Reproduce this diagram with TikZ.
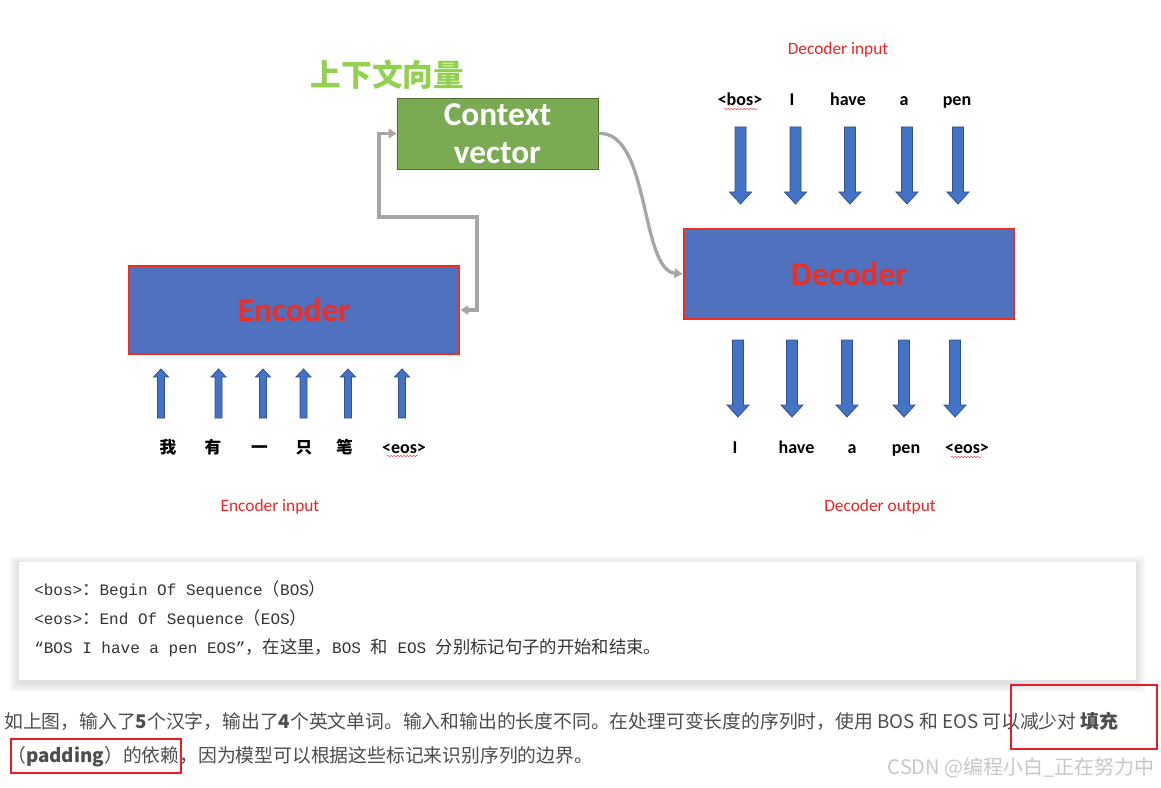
\documentclass[tikz,border=0pt]{standalone}
\usepackage{fontspec}
\setmainfont{Carlito}
\setmonofont{Liberation Mono}
\newfontfamily\cjk{Noto Sans CJK SC}
\usepackage{tikz}
\usepackage{xcolor}
\usetikzlibrary{arrows.meta, decorations.pathmorphing}

\definecolor{boxblue}{RGB}{79,113,190}
\definecolor{boxred}{RGB}{236,46,36}
\definecolor{arrblue}{RGB}{68,114,196}
\definecolor{arredge}{RGB}{47,82,143}
\definecolor{ctxgreen}{RGB}{122,170,82}
\definecolor{ctxedge}{RGB}{80,110,50}
\definecolor{lightgreen}{RGB}{146,208,80}
\definecolor{linkgray}{RGB}{166,166,166}
\definecolor{labelred}{RGB}{236,36,36}
\definecolor{bodytext}{RGB}{77,77,77}
\definecolor{codetext}{RGB}{51,51,51}
\definecolor{hlred}{RGB}{229,30,40}
\definecolor{wmgray}{RGB}{200,200,200}

\begin{document}
\begin{tikzpicture}[x=0.75pt, y=-0.75pt,
    box/.style={draw=boxred, line width=2.2pt, fill=boxblue, inner sep=0pt, text=boxred, minimum width=247.5pt, font=\fontsize{25}{30}\selectfont\bfseries},
    ctxbox/.style={draw=ctxedge, line width=0.6pt, fill=ctxgreen, inner sep=0pt, text=white, align=center, minimum width=150.75pt, minimum height=53.25pt, font=\fontsize{25}{28.5}\selectfont\bfseries},
    tok/.style={inner sep=0pt, text height=11pt, text depth=2pt, font=\fontsize{13.5}{16}\selectfont\bfseries},
    cjktok/.style={inner sep=0pt, text height=11pt, text depth=2pt, font=\cjk\fontsize{12.5}{15}\selectfont\bfseries},
    redlabel/.style={inner sep=0pt, text=labelred, font=\fontsize{13}{16}\selectfont},
    blockarrow/.style={fill=arrblue, draw=arredge, line width=0.6pt},
    link/.style={draw=linkgray, line width=2.5pt, >={Triangle[length=6pt, width=7pt]}},
    squig/.style={draw=labelred!80, line width=0.4pt, decorate, decoration={snake, amplitude=0.6pt, segment length=2.4pt}},
    code/.style={anchor=west, inner sep=0pt, text=codetext, font=\ttfamily\fontsize{12}{14}\selectfont},
    para/.style={anchor=west, inner sep=0pt, text=bodytext, font=\cjk\fontsize{14.1}{17}\selectfont},
    hl/.style={draw=hlred, line width=1.8pt}]
    \useasboundingbox (0,0) rectangle (1161,788);
    \fill[white] (0,0) rectangle (1161,788);

    % boxes
    \node (enc) [box, minimum height=66pt] at (294,310) {Encoder};
    \node (dec) [box, minimum height=67.5pt] at (849,274) {Decoder};
    \node (ctx) [ctxbox] at (497.5,133.5) {Context\\vector};
    \node (ctxlabel) [inner sep=0pt, text=lightgreen, font=\cjk\fontsize{23}{27}\selectfont\bfseries] at (387.5,75) {上下文向量};

    % links to and from the context vector
    \draw[link, <->] (enc.east) -- (477,310) -- (477,217) -- (379,217) |- (ctx.west);
    \draw[link, ->] (ctx.east) .. controls (650,130) and (640,270) .. (dec.west);

    % encoder input
    \foreach \x in {161,218.5,263,303.5,348,402}
        \draw[blockarrow] ({\x-3.5},418) -- ({\x-3.5},377) -- ({\x-7.5},377) -- (\x,369) -- ({\x+7.5},377) -- ({\x+3.5},377) -- ({\x+3.5},418) -- cycle;
    \node (e1) [cjktok] at (168,447) {我};
    \node (e2) [cjktok] at (213,447) {有};
    \node (e3) [cjktok] at (259.5,447) {一};
    \node (e4) [cjktok] at (304,447) {只};
    \node (e5) [cjktok] at (344.5,447) {笔};
    \node (e6) [tok] at (404,447) {<eos>};
    \draw[squig] (387,456) -- (418,456);
    \node (encin) [redlabel] at (270,507) {Encoder input};

    % decoder input
    \node (decin) [redlabel] at (838,50) {Decoder input};
    \node (d1) [tok] at (740,100) {<bos>};
    \node (d2) [tok] at (792,100) {I};
    \node (d3) [tok] at (848,100) {have};
    \node (d4) [tok] at (904,100) {a};
    \node (d5) [tok] at (957,100) {pen};
    \draw[squig] (724,109) -- (757,109);
    \foreach \x in {740.5,795.5,850,907,958}
        \draw[blockarrow] ({\x-5.5},127) -- ({\x-5.5},192) -- ({\x-11},192) -- (\x,204) -- ({\x+11},192) -- ({\x+5.5},192) -- ({\x+5.5},127) -- cycle;

    % decoder output
    \foreach \x in {738,792,847,904,955}
        \draw[blockarrow] ({\x-5.5},340) -- ({\x-5.5},405) -- ({\x-11},405) -- (\x,417) -- ({\x+11},405) -- ({\x+5.5},405) -- ({\x+5.5},340) -- cycle;
    \node (o1) [tok] at (735,447) {I};
    \node (o2) [tok] at (796.5,447) {have};
    \node (o3) [tok] at (852,447) {a};
    \node (o4) [tok] at (906,447) {pen};
    \node (o5) [tok] at (967,447) {<eos>};
    \draw[squig] (951,457) -- (981,457);
    \node (decout) [redlabel] at (880,507) {Decoder output};

    % code card
    \foreach \i in {1,...,10}
        \fill[black, opacity=0.01] ({19-\i},{562-\i+3}) rectangle ({1136+\i},{680+\i+3});
    \fill[white] (19,562) rectangle (1136,680);
    \node (c1) [code] at (34,590) {<bos>{\cjk\fontsize{13}{14}\selectfont ：}Begin Of Sequence{\cjk\fontsize{13}{14}\selectfont （}BOS{\cjk\fontsize{13}{14}\selectfont ）}};
    \node (c2) [code] at (34,619) {<eos>{\cjk\fontsize{13}{14}\selectfont ：}End Of Sequence{\cjk\fontsize{13}{14}\selectfont （}EOS{\cjk\fontsize{13}{14}\selectfont ）}};
    \node (c3) [code] at (34,648) {“BOS I have a pen EOS”{\cjk\fontsize{13}{14}\selectfont ，在这里，}BOS {\cjk\fontsize{13}{14}\selectfont 和} EOS {\cjk\fontsize{13}{14}\selectfont 分别标记句子的开始和结束。}};

    % text below
    \node (p1) [para] at (4,721) {如上图，输入了\textbf{5}个汉字，输出了\textbf{4}个英文单词。输入和输出的长度不同。在处理可变长度的序列时，使用 BOS 和 EOS 可以减少对 \textbf{填充}};
    \node (p2) [para] at (7,757) {（\textbf{padding}）的依赖，因为模型可以根据这些标记来识别序列的边界。};
    \draw[hl] (1011,685) rectangle (1157,749);
    \draw[hl] (11,739) rectangle (181,773);
    \node (mark) [anchor=east, inner sep=0pt, text=wmgray, font=\cjk\fontsize{15}{18}\selectfont] at (1155,768) {CSDN @编程小白\_正在努力中};
\end{tikzpicture}
\end{document}
